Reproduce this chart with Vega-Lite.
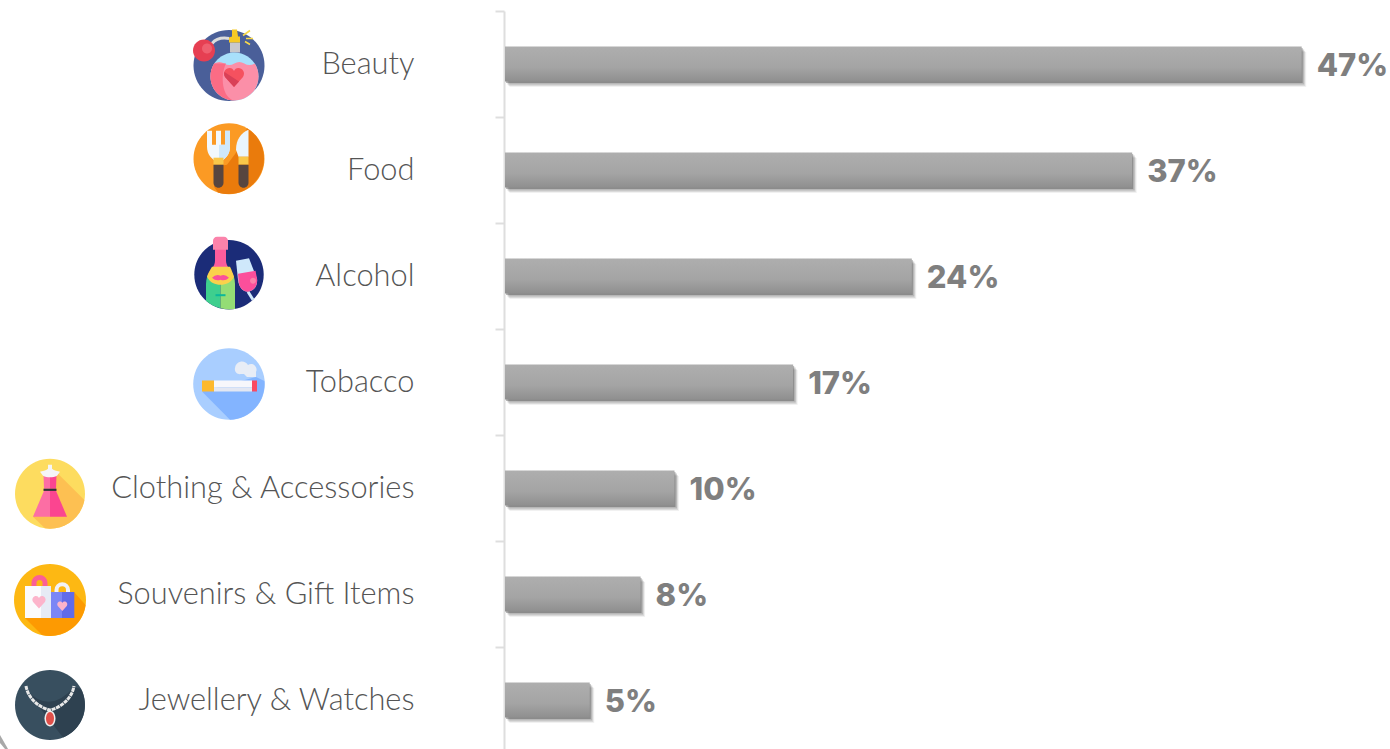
{
  "$schema": "https://vega.github.io/schema/vega-lite/v6.json",
  "autosize": "none",
  "padding": {"left": 505, "top": 11, "right": 0, "bottom": 0},
  "width": 885,
  "height": 738,
  "background": "#ffffff",
  "config": {
    "view": {"stroke": null},
    "point": {"size": 4, "opacity": 1, "filled": true, "strokeWidth": 0}
  },
  "data": {
    "values": [
      {"category": "Beauty", "share": 0.47, "iconColumn": "inner"},
      {"category": "Food", "share": 0.37, "iconColumn": "inner"},
      {"category": "Alcohol", "share": 0.24, "iconColumn": "inner"},
      {"category": "Tobacco", "share": 0.17, "iconColumn": "inner"},
      {"category": "Clothing & Accessories", "share": 0.10, "iconColumn": "outer"},
      {"category": "Souvenirs & Gift Items", "share": 0.08, "iconColumn": "outer"},
      {"category": "Jewellery & Watches", "share": 0.05, "iconColumn": "outer"}
    ]
  },
  "encoding": {
    "y": {
      "field": "category",
      "type": "nominal",
      "sort": null,
      "title": null,
      "scale": {"range": [0, 742], "paddingInner": 0, "paddingOuter": 0},
      "axis": {
        "tickBand": "extent",
        "tickColor": "#dedede",
        "tickWidth": 2,
        "tickSize": 9,
        "domainColor": "#dedede",
        "domainWidth": 2,
        "offset": 1,
        "grid": false,
        "labelFont": "Lato",
        "labelFontWeight": 300,
        "labelFontSize": 30.8,
        "labelColor": "#555555",
        "labelPadding": 81,
        "labelLimit": 500
      }
    }
  },
  "layer": [
    {
      "encoding": {
        "x": {
          "field": "share",
          "type": "quantitative",
          "axis": null,
          "scale": {"domain": [0, 0.5221], "nice": false, "zero": true}
        }
      },
      "layer": [
        {"mark": {"type": "bar", "size": 35, "fill": "#3a3a3a", "opacity": 0.07, "xOffset": 4.5, "yOffset": 5.5}},
        {"mark": {"type": "bar", "size": 35, "fill": "#3a3a3a", "opacity": 0.12, "xOffset": 3.5, "yOffset": 4.5}},
        {"mark": {"type": "bar", "size": 35, "fill": "#3a3a3a", "opacity": 0.22, "xOffset": 2.5, "yOffset": 3}},
        {"mark": {"type": "bar", "size": 35, "fill": "#3a3a3a", "opacity": 0.35, "xOffset": 1, "yOffset": 1.5}},
        {
          "mark": {
            "type": "bar",
            "size": 35,
            "fill": {
              "gradient": "linear",
              "x1": 0,
              "y1": 0,
              "x2": 0,
              "y2": 1,
              "stops": [
                {"offset": 0, "color": "#aeaeae"},
                {"offset": 0.6, "color": "#a4a4a4"},
                {"offset": 1, "color": "#8f8f8f"}
              ]
            }
          }
        },
        {
          "mark": {
            "type": "text",
            "align": "left",
            "baseline": "middle",
            "dx": 15,
            "dy": 2.5,
            "font": "Inter",
            "fontWeight": 800,
            "fontSize": 31,
            "fill": "#7f7f7f"
          },
          "encoding": {"text": {"field": "share", "type": "quantitative", "format": ".0%"}}
        }
      ]
    },
    {
      "encoding": {
        "x": {
          "field": "iconColumn",
          "type": "nominal",
          "axis": null,
          "scale": {"type": "point", "domain": ["outer", "inner"], "range": [-455, -276], "padding": 0}
        }
      },
      "layer": [
        {
          "transform": [{"filter": "datum.category === 'Beauty'"}],
          "layer": [
            {"mark": {"type": "point", "yOffset": 1.5, "fill": "#4a5f99", "shape": "M-35.5,0A35.5,35.5 0 1,1 35.5,0A35.5,35.5 0 1,1 -35.5,0Z"}},
            {"mark": {"type": "point", "yOffset": 1.5, "filled": false, "stroke": "#dcdcdc", "strokeWidth": 3, "shape": "M-17,-22 C-12,-28 -6,-28 0,-27"}},
            {"mark": {"type": "point", "yOffset": 1.5, "fill": "#e63f52", "shape": "M-36,-15a11,11 0 1,1 22,0a11,11 0 1,1 -22,0z"}},
            {"mark": {"type": "point", "yOffset": 1.5, "fill": "#ef5f6f", "shape": "M-27,-17a5,5 0 1,1 10,0a5,5 0 1,1 -10,0z"}},
            {"mark": {"type": "point", "yOffset": 1.5, "fill": "#c8c8cc", "shape": "M1,-23 h10 v10 h-10 z"}},
            {"mark": {"type": "point", "yOffset": 1.5, "fill": "#f6c925", "shape": "M3,-36 h5 l1,7 h2 v6 h-11 v-5 l3,-1 z"}},
            {"mark": {"type": "point", "yOffset": 1.5, "filled": false, "stroke": "#f9d94a", "strokeWidth": 1.6, "shape": "M14,-30 L21,-35 M16,-24 L21,-21 M17,-27 L24,-27"}},
            {"mark": {"type": "point", "yOffset": 1.5, "fill": "#a8e0fb", "shape": "M-18.5,11a24,24 0 1,1 48,0a24,24 0 1,1 -48,0z"}},
            {"mark": {"type": "point", "yOffset": 1.5, "fill": "#fb8fa8", "shape": "M-14.7,-2 q5,-3 10,0 t10,0 t10,0 t10.4,0 A24,24 0 1 1 -14.7,-2Z"}},
            {"mark": {"type": "point", "yOffset": 1.5, "fill": "#fb6c85", "shape": "M-14.7,-2 A24,24 0 0 0 5.5,35 C-7,33 -9,10 -3,-2 Z"}},
            {"mark": {"type": "point", "yOffset": 1.5, "fill": "#f5515f", "shape": "M5,21.5 l-9,-10 c-3,-5 1,-9 4.5,-9 c2.5,0 3.5,1 4.5,3 c1,-2 2,-3 4.5,-3 c3.5,0 7.5,4 4.5,9 z"}},
            {"mark": {"type": "point", "yOffset": 1.5, "fill": "#d94057", "shape": "M5,21.5 L-4,11.5 C-5,9.5 -5,8 -4.5,6.5 L10,16Z"}}
          ]
        },
        {
          "transform": [{"filter": "datum.category === 'Food'"}],
          "layer": [
            {"mark": {"type": "point", "yOffset": -11.3, "fill": "#fb9a24", "shape": "M-35.5,0A35.5,35.5 0 1,1 35.5,0A35.5,35.5 0 1,1 -35.5,0Z"}},
            {"mark": {"type": "point", "yOffset": -11.3, "fill": "#ea7b0c", "shape": "M18,-30.5 A35.5,35.5 0 0 1 -11,33.7 L-15,28 L-15,8 L-2,6 L7,-6 Z"}},
            {"mark": {"type": "point", "yOffset": -11.3, "fill": "#f2f8fd", "shape": "M-22,-28 h5 v14 h4 v-14 h5 v14 h4 v-14 h5 v16 c0,8 -5,12 -8,14 h-7 c-3,-2 -8,-6 -8,-14 z"}},
            {"mark": {"type": "point", "yOffset": -11.3, "fill": "#cfe8fb", "shape": "M-10,-14 h2 v-14 v14 h4 v-14 h5 v16 c0,8 -5,12 -8,14 h-3 z"}},
            {"mark": {"type": "point", "yOffset": -11.3, "fill": "#f9c74a", "shape": "M-15.5,-1 h10 v7 h-10 z"}},
            {"mark": {"type": "point", "yOffset": -11.3, "fill": "#57453f", "shape": "M-15.5,6 h10 v18 a5,5 0 0 1 -10,0 z"}},
            {"mark": {"type": "point", "yOffset": -11.3, "fill": "#eaf5fd", "shape": "M7,-9 C7,-19 12,-26 19.5,-29 V-2 H9.5 Z"}},
            {"mark": {"type": "point", "yOffset": -11.3, "fill": "#f9c74a", "shape": "M9.5,-2 h10 v8 h-10 z"}},
            {"mark": {"type": "point", "yOffset": -11.3, "fill": "#57453f", "shape": "M9.5,6 h10 v18 a5,5 0 0 1 -10,0 z"}}
          ]
        },
        {
          "transform": [{"filter": "datum.category === 'Alcohol'"}],
          "layer": [
            {"mark": {"type": "point", "yOffset": -1.3, "fill": "#1b2c78", "shape": "M-34.7,0A34.7,34.7 0 1,1 34.7,0A34.7,34.7 0 1,1 -34.7,0Z"}},
            {"mark": {"type": "point", "yOffset": -1.3, "fill": "#fb5c9c", "shape": "M-14,-26 h11 v12 c0,6 5,9 7,14 h-25 c2,-5 7,-8 7,-14 z"}},
            {"mark": {"type": "point", "yOffset": -1.3, "fill": "#3ecf8e", "shape": "M-8.5,0 H-21 C-23,4 -23,8 -23,12 V26 A34.7,34.7 0 0 0 -8.5,33.6 Z"}},
            {"mark": {"type": "point", "yOffset": -1.3, "fill": "#94dd75", "shape": "M-8.5,0 H4 C6,4 6,8 6,12 V34.2 A34.7,34.7 0 0 1 -8.5,33.6 Z"}},
            {"mark": {"type": "point", "yOffset": -1.3, "fill": "#fad14c", "shape": "M-17,-8 H1 C3,-4 4,-1 5,2 C2,8 -3,10 -8.5,10 C-14,10 -19,8 -22,2 C-21,-1 -19,-5 -17,-8Z"}},
            {"mark": {"type": "point", "yOffset": -1.3, "fill": "#fb4f9b", "shape": "M-17,3 q4,-4 8.5,-2 q4.5,-2 8.5,2 q-4,4 -8.5,2 q-4.5,2 -8.5,-2z"}},
            {"mark": {"type": "point", "yOffset": -1.3, "fill": "#0ab89b", "shape": "M-13.5,19.5 h10 v2 h-10 z"}},
            {"mark": {"type": "point", "yOffset": -1.3, "fill": "#fb83ab", "shape": "M-16,-34 a4,4 0 0 1 4,-4 h7 a4,4 0 0 1 4,4 v9 h-15 z"}},
            {"mark": {"type": "point", "yOffset": -1.3, "filled": false, "stroke": "#cfe8fb", "strokeWidth": 3, "shape": "M19,17 L24,25"}},
            {"mark": {"type": "point", "yOffset": -1.3, "fill": "#cfe8fb", "shape": "M7,-14 L20,-16.5 L28,4 C29,12 24,16 19,17 C14,17 10,13 9,5 Z"}},
            {"mark": {"type": "point", "yOffset": -1.3, "fill": "#fb4f9b", "shape": "M9,-1 L26.5,-4 L28,4 C29,12 24,16 19,17 C14,17 10,13 9.5,6Z"}},
            {"mark": {"type": "point", "yOffset": -1.3, "fill": "#fb83ab", "shape": "M21,6a3,3 0 1,1 6,0a3,3 0 1,1 -6,0z"}}
          ]
        },
        {
          "transform": [{"filter": "datum.category === 'Tobacco'"}],
          "layer": [
            {"mark": {"type": "point", "yOffset": 2, "fill": "#a9ceff", "shape": "M-35.8,0A35.8,35.8 0 1,1 35.8,0A35.8,35.8 0 1,1 -35.8,0Z"}},
            {"mark": {"type": "point", "yOffset": 2, "fill": "#83b4ff", "shape": "M27,-7 L35.4,-3 A35.8,35.8 0 0 1 1,35.8 L-27,7.5 Z"}},
            {"mark": {"type": "point", "yOffset": 2, "fill": "#e8edf6", "shape": "M6,-16 a7,7 0 0 1 13,-3 a5.5,5.5 0 0 1 8,7 v5 h-9 l-3,-3 h-3 a5,5 0 0 1 -6,-6 z"}},
            {"mark": {"type": "point", "yOffset": 2, "fill": "#fdb92e", "shape": "M-27,-3.5 h12 v11 h-12 z"}},
            {"mark": {"type": "point", "yOffset": 2, "fill": "#f7f7fb", "shape": "M-15,-3.5 h38 v7 h-38 z"}},
            {"mark": {"type": "point", "yOffset": 2, "fill": "#e3e7f2", "shape": "M-15,3.5 h38 v4 h-38 z"}},
            {"mark": {"type": "point", "yOffset": 2, "fill": "#f94a62", "shape": "M23,-3.5 h5 v11 h-5 z"}}
          ]
        },
        {
          "transform": [{"filter": "datum.category === 'Clothing & Accessories'"}],
          "layer": [
            {"mark": {"type": "point", "yOffset": 5.7, "fill": "#fddc5f", "shape": "M-35,0A35,35 0 1,1 35,0A35,35 0 1,1 -35,0Z"}},
            {"mark": {"type": "point", "yOffset": 5.7, "fill": "#fdc052", "shape": "M8,-20 L34.4,6.4 A35,35 0 0 1 -5,34.6 L-17,23Z"}},
            {"mark": {"type": "point", "yOffset": 5.7, "fill": "#fc6ea4", "shape": "M-6.5,-19 H0 V-5 H-6 Z"}},
            {"mark": {"type": "point", "yOffset": 5.7, "fill": "#fb4590", "shape": "M0,-19 H6.5 L6,-5 H0 Z"}},
            {"mark": {"type": "point", "yOffset": 5.7, "fill": "#fc6ea4", "shape": "M-6,-3 H0 V23 H-17 Z"}},
            {"mark": {"type": "point", "yOffset": 5.7, "fill": "#fb4590", "shape": "M0,-3 H6 L17,23 H0 Z"}},
            {"mark": {"type": "point", "yOffset": 5.7, "fill": "#2f2f3a", "shape": "M-6.5,-5 h13 v2.2 h-13 z"}},
            {"mark": {"type": "point", "yOffset": 5.7, "fill": "#f5f5f7", "shape": "M-2,-29 h4 v4 c2,2 6,2 8,3 l-3,4 c-4,2 -10,2 -14,0 l-3,-4 c2,-1 6,-1 8,-3 z"}}
          ]
        },
        {
          "transform": [{"filter": "datum.category === 'Souvenirs & Gift Items'"}],
          "layer": [
            {"mark": {"type": "point", "yOffset": 6, "fill": "#fdb813", "shape": "M-36,0A36,36 0 1,1 36,0A36,36 0 1,1 -36,0Z"}},
            {"mark": {"type": "point", "yOffset": 6, "fill": "#fd9a02", "shape": "M24,-8 L35.6,5 A36,36 0 0 1 -8,35.1 L-25,18Z"}},
            {"mark": {"type": "point", "yOffset": 6, "filled": false, "stroke": "#fb5f96", "strokeWidth": 5, "shape": "M-16,-12 V-17 a5.5,5.5 0 0 1 11,0 V-12"}},
            {"mark": {"type": "point", "yOffset": 6, "fill": "#fbfbfd", "shape": "M-25,-14 H1 V18 H-25 Z"}},
            {"mark": {"type": "point", "yOffset": 6, "fill": "#e6ebf5", "shape": "M-9,-14 H1 V18 H-9 Z"}},
            {"mark": {"type": "point", "yOffset": 6, "filled": false, "stroke": "#f2f2f6", "strokeWidth": 4, "shape": "M6.5,-6 V-10 a5.75,5.75 0 0 1 11.5,0 V-6"}},
            {"mark": {"type": "point", "yOffset": 6, "fill": "#7b86f5", "shape": "M1,-8 H12 V18 H1 Z"}},
            {"mark": {"type": "point", "yOffset": 6, "fill": "#616be8", "shape": "M12,-8 H24.3 V18 H12 Z"}},
            {"mark": {"type": "point", "yOffset": 6, "fill": "#fcb4cb", "shape": "M-11,8.5 l-5.9,-6.5 c-2,-3.2 .6,-5.9 2.9,-5.9 c1.6,0 2.3,.7 3,2 c.7,-1.3 1.4,-2 3,-2 c2.3,0 4.9,2.7 2.9,5.9 z"}},
            {"mark": {"type": "point", "yOffset": 6, "fill": "#fcb4cb", "shape": "M12.3,11 l-4.5,-5 c-1.5,-2.5 .5,-4.5 2.25,-4.5 c1.25,0 1.75,.5 2.25,1.5 c.5,-1 1,-1.5 2.25,-1.5 c1.75,0 3.75,2 2.25,4.5 z"}}
          ]
        },
        {
          "transform": [{"filter": "datum.category === 'Jewellery & Watches'"}],
          "layer": [
            {"mark": {"type": "point", "yOffset": 5, "fill": "#384f5f", "shape": "M-35,0A35,35 0 1,1 35,0A35,35 0 1,1 -35,0Z"}},
            {"mark": {"type": "point", "yOffset": 5, "fill": "#2e4150", "shape": "M24,-18 L31,-16 A35,35 0 0 1 13,32.5 L-24,-15 Q0,10 24,-18Z"}},
            {"mark": {"type": "point", "yOffset": 5, "filled": false, "stroke": "#e8e8e8", "strokeWidth": 3, "strokeDash": [4, 0.7], "shape": "M-24,-19 C-22,-6 -10,3 0,5 C10,3 22,-6 24,-19"}},
            {"mark": {"type": "point", "yOffset": 5, "fill": "#f0f0f0", "shape": "M-5.5,13.5 a5.5,8 0 1,1 11,0 a5.5,8 0 1,1 -11,0z"}},
            {"mark": {"type": "point", "yOffset": 5, "fill": "#e0504a", "shape": "M-4,13.5 a4,6.5 0 1,1 8,0 a4,6.5 0 1,1 -8,0z"}},
            {"mark": {"type": "point", "yOffset": 5, "fill": "#a8a8a8", "shape": "M-50,30 L-42,44 L-45,44 L-50,38Z"}}
          ]
        }
      ]
    }
  ],
  "resolve": {"scale": {"x": "independent"}}
}
